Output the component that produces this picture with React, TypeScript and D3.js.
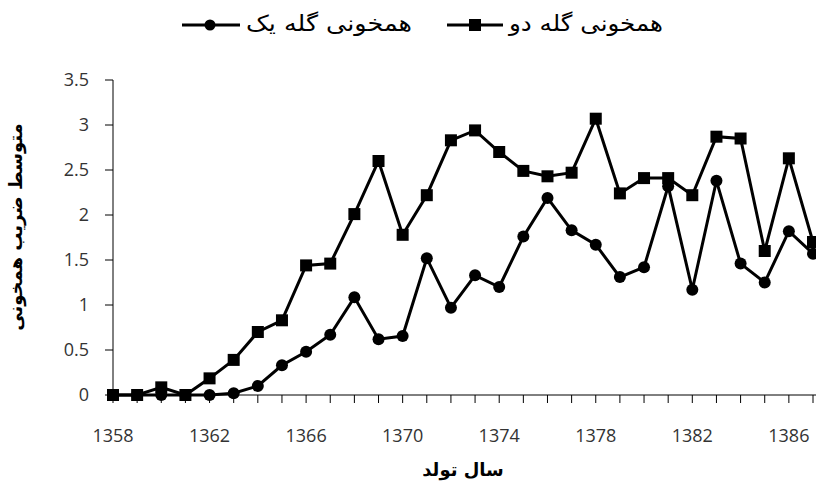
import * as d3 from 'd3';
import { useEffect, useRef } from 'react';

const years = d3.range(1358, 1388);
const groupTwo = [0, 0, 0.085, 0, 0.185, 0.39, 0.7, 0.83, 1.44, 1.46, 2.01, 2.6, 1.78, 2.22, 2.83, 2.94, 2.7, 2.49, 2.43, 2.47, 3.07, 2.24, 2.41, 2.41, 2.22, 2.87, 2.85, 1.6, 2.63, 1.7];
const groupOne = [0, 0, 0, 0, 0, 0.02, 0.1, 0.33, 0.48, 0.67, 1.085, 0.62, 0.655, 1.52, 0.97, 1.33, 1.2, 1.76, 2.19, 1.83, 1.67, 1.31, 1.42, 2.32, 1.17, 2.38, 1.46, 1.25, 1.82, 1.57];
const yTicks = [0, 0.5, 1, 1.5, 2, 2.5, 3, 3.5];
const xTickLabels = [1358, 1362, 1366, 1370, 1374, 1378, 1382, 1386];
const labelOne = 'همخونی گله یک';
const labelTwo = 'همخونی گله دو';
const xTitle = 'سال تولد';
const yTitle = 'متوسط ضریب همخونی';

const persian = '"DejaVu Sans", "Noto Sans", sans-serif';
const latin = '"Open Sans", "Liberation Sans", sans-serif';

export default function App() {
  const svgRef = useRef(null);

  useEffect(() => {
    const el = svgRef.current;
    if (!el) return;
    const svg = d3.select(el);
    svg.selectAll('*').remove();

    const x = d3.scaleLinear().domain([1358, 1387]).range([113, 813]);
    const y = d3.scaleLinear().domain([0, 3.5]).range([395, 80]);

    // y axis
    svg.append('line').attr('x1', 113).attr('x2', 113).attr('y1', y(3.5)).attr('y2', y(0))
      .attr('stroke', '#000').attr('stroke-width', 1);
    svg.selectAll('line.yt').data(yTicks).join('line').attr('class', 'yt')
      .attr('x1', 105).attr('x2', 113).attr('y1', (d) => y(d)).attr('y2', (d) => y(d))
      .attr('stroke', '#000');
    svg.selectAll('text.yl').data(yTicks).join('text').attr('class', 'yl')
      .attr('x', 89).attr('y', (d) => y(d)).attr('dy', '0.35em')
      .attr('text-anchor', 'end').attr('font-family', latin).attr('font-size', 18)
      .attr('fill', '#333').text((d) => d);

    // x axis
    svg.append('line').attr('x1', 113).attr('x2', 816).attr('y1', y(0)).attr('y2', y(0))
      .attr('stroke', '#000');
    svg.selectAll('line.xt').data(years).join('line').attr('class', 'xt')
      .attr('x1', (d) => x(d)).attr('x2', (d) => x(d)).attr('y1', y(0)).attr('y2', y(0) + 8)
      .attr('stroke', '#000');
    svg.selectAll('text.xl').data(xTickLabels).join('text').attr('class', 'xl')
      .attr('x', (d) => x(d)).attr('y', 442)
      .attr('text-anchor', 'middle').attr('font-family', latin).attr('font-size', 18)
      .attr('fill', '#333').text((d) => d);

    const line = d3.line<number>().x((_, i) => x(years[i])).y((d) => y(d));

    svg.append('path').attr('d', line(groupTwo)).attr('fill', 'none')
      .attr('stroke', '#000').attr('stroke-width', 3);
    svg.selectAll('rect.sq').data(groupTwo).join('rect').attr('class', 'sq')
      .attr('x', (_, i) => x(years[i]) - 6).attr('y', (d) => y(d) - 6)
      .attr('width', 12).attr('height', 12).attr('fill', '#000');

    svg.append('path').attr('d', line(groupOne)).attr('fill', 'none')
      .attr('stroke', '#000').attr('stroke-width', 3);
    svg.selectAll('circle.ci').data(groupOne).join('circle').attr('class', 'ci')
      .attr('cx', (_, i) => x(years[i])).attr('cy', (d) => y(d))
      .attr('r', 6).attr('fill', '#000');

    // legend
    const ly = 25;
    svg.append('line').attr('x1', 182).attr('x2', 240).attr('y1', ly).attr('y2', ly)
      .attr('stroke', '#000').attr('stroke-width', 3);
    svg.append('circle').attr('cx', 210).attr('cy', ly).attr('r', 5.5).attr('fill', '#000');
    svg.append('text').attr('x', 246).attr('y', ly + 6)
      .attr('font-family', persian).attr('font-size', 22)
      .attr('textLength', 166).attr('lengthAdjust', 'spacingAndGlyphs')
      .text(labelOne);

    svg.append('line').attr('x1', 447).attr('x2', 503).attr('y1', ly).attr('y2', ly)
      .attr('stroke', '#000').attr('stroke-width', 3);
    svg.append('rect').attr('x', 469).attr('y', ly - 6).attr('width', 12).attr('height', 12)
      .attr('fill', '#000');
    svg.append('text').attr('x', 509).attr('y', ly + 6)
      .attr('font-family', persian).attr('font-size', 22)
      .attr('textLength', 154).attr('lengthAdjust', 'spacingAndGlyphs')
      .text(labelTwo);

    // axis titles
    svg.append('text').attr('x', 463).attr('y', 476).attr('text-anchor', 'middle')
      .attr('font-family', persian).attr('font-size', 18).attr('font-weight', 'bold')
      .text(xTitle);
    svg.append('text').attr('transform', 'translate(16,227) rotate(-90)')
      .attr('text-anchor', 'middle').attr('dy', '0.35em')
      .attr('font-family', persian).attr('font-size', 18).attr('font-weight', 'bold')
      .text(yTitle);
  }, []);

  return (
    <svg
      ref={svgRef}
      width={816}
      height={503}
      style={{ position: 'absolute', left: 0, top: 0, background: '#fff' }}
    />
  );
}
